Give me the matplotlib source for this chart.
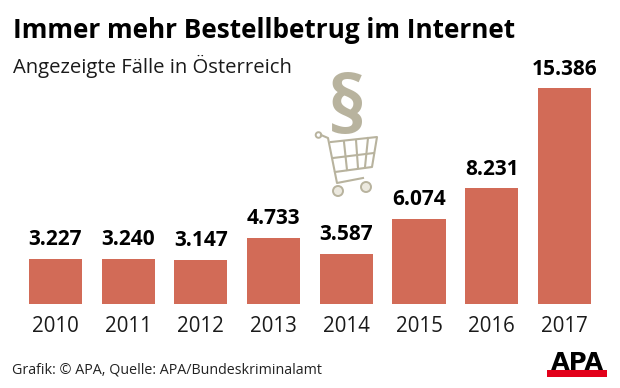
import matplotlib
matplotlib.use('Agg')
import matplotlib.pyplot as plt
from matplotlib.patches import Rectangle, Circle

years = ['2010', '2011', '2012', '2013', '2014', '2015', '2016', '2017']
cases = [3227, 3240, 3147, 4733, 3587, 6074, 8231, 15386]
value_labels = ['3.227', '3.240', '3.147', '4.733', '3.587', '6.074', '8.231', '15.386']

BAR = '#d26b57'
ICON = '#b8b39e'

plt.rcParams['font.family'] = ['Open Sans', 'DejaVu Sans']

W, H = 620, 388
fig = plt.figure(figsize=(W / 100, H / 100), dpi=100)

# bars: baseline at y=304px, top of 2017 at y=88px
ax = fig.add_axes([0, 1 - 304 / H, 1, 216 / H])
ax.bar(range(len(years)), cases, width=0.73, color=BAR)
ax.set_xlim(-0.763, 7.765)
ax.set_ylim(0, max(cases))
ax.set_xticks(range(len(years)))
ax.set_xticklabels(years, fontsize=14.8, color='#1a1a1a')
ax.tick_params(axis='x', length=0, pad=9)
ax.set_yticks([])
for s in ax.spines.values():
    s.set_visible(False)
ax.patch.set_alpha(0)
for i, v in enumerate(cases):
    ax.annotate(value_labels[i], (i, v), xytext=(0, 6), textcoords='offset points',
                ha='center', va='bottom', fontsize=15, fontweight='bold', color='black',
                annotation_clip=False)

# overlay in pixel coordinates for texts and icons
ov = fig.add_axes([0, 0, 1, 1], zorder=5)
ov.set_xlim(0, W)
ov.set_ylim(H, 0)
ov.axis('off')

ov.text(13, 31, 'Immer mehr Bestellbetrug im Internet', fontsize=18.85, fontweight='bold',
        va='center', ha='left', color='black')
ov.text(13, 66, 'Angezeigte Fälle in Österreich', fontsize=14.6, va='center', ha='left', color='#1a1a1a')
ov.text(12, 369.5, 'Grafik: © APA, Quelle: APA/Bundeskriminalamt', fontsize=10.3, va='center',
        ha='left', color='#222222')

# paragraph sign
ov.text(347, 113, '§', fontsize=56, fontweight='bold', color=ICON, ha='center', va='center')

# shopping cart
lw = 1.5
ov.plot([321, 328, 337, 363], [135, 138, 183, 178], color=ICON, lw=lw)
ov.plot([331, 377, 372, 335], [142, 137, 167, 172], color=ICON, lw=lw)
ov.plot([333, 374], [158, 153], color=ICON, lw=lw)
ov.plot([344, 347], [142, 170], color=ICON, lw=lw)
ov.plot([356, 358], [140, 168], color=ICON, lw=lw)
ov.plot([368, 365], [138, 167], color=ICON, lw=lw)
ov.add_patch(Circle((318.5, 135), 2.8, fc='white', ec=ICON, lw=1.4))
ov.add_patch(Circle((338, 191), 5, fc='#ece9df', ec=ICON, lw=1.4))
ov.add_patch(Circle((366, 187), 5, fc='#ece9df', ec=ICON, lw=1.4))

# APA logo
ov.add_patch(Rectangle((547, 370), 60, 7, fc='#e2001a', ec='none'))
ov.text(577, 370, 'APA', fontsize=17.5, fontweight='bold', family=['DejaVu Sans'],
        ha='center', va='baseline', color='black')

fig.savefig('out.png', dpi=100)
